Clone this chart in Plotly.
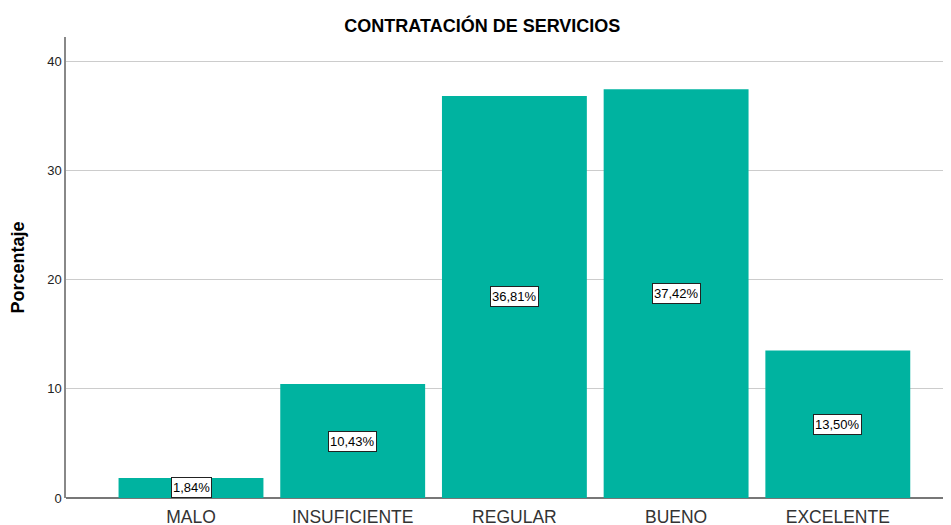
import plotly.graph_objects as go

categorias = ['MALO', 'INSUFICIENTE', 'REGULAR', 'BUENO', 'EXCELENTE']
porcentajes = [1.84, 10.43, 36.81, 37.42, 13.50]
etiquetas = ['1,84%', '10,43%', '36,81%', '37,42%', '13,50%']
ticks_y = [0, 10, 20, 30, 40]

fig = go.Figure(
    go.Bar(
        x=categorias,
        y=porcentajes,
        marker=dict(color='#00B3A0', line=dict(width=0)),
        hoverinfo='skip'
    )
)

# etiquetas en cajas blancas a media altura de cada barra
for cat, val, txt in zip(categorias, porcentajes, etiquetas):
    fig.add_annotation(
        x=cat, y=val / 2, text=txt, showarrow=False,
        font=dict(family='Arial', size=13, color='black'),
        height=17,
        bgcolor='white', bordercolor='#222', borderwidth=1, borderpad=1
    )

# la página añade 8px de margen al body, por eso la figura es algo más pequeña
fig.update_layout(
    width=943, height=517,
    margin=dict(l=58, r=0, t=29, b=27),
    paper_bgcolor='white', plot_bgcolor='white',
    bargap=0.104,
    showlegend=False,
    title=dict(
        text='<b>CONTRATACIÓN DE SERVICIOS</b>',
        x=0.503, xref='container', xanchor='center',
        y=0.965, yref='container', yanchor='middle',
        font=dict(family='Arial', size=18, color='black')
    ),
    xaxis=dict(
        range=[-0.773, 4.70],
        showline=False, showgrid=False, ticks='',
        tickfont=dict(family='Arial', size=17.5, color='#333'),
        ticklabelstandoff=6, automargin=False
    ),
    yaxis=dict(
        range=[0, 42.2],
        tickvals=ticks_y,
        showline=True, linecolor='#888', linewidth=1.5,
        showgrid=True, gridcolor='#ccc', gridwidth=1,
        zeroline=True, zerolinecolor='#777', zerolinewidth=1.5,
        ticks='', tickfont=dict(family='Arial', size=13, color='#222'),
        automargin=False,
        title=dict(text='<b>Porcentaje</b>', standoff=20,
                   font=dict(family='Arial', size=18, color='black'))
    )
)

fig.write_html('out.html')
